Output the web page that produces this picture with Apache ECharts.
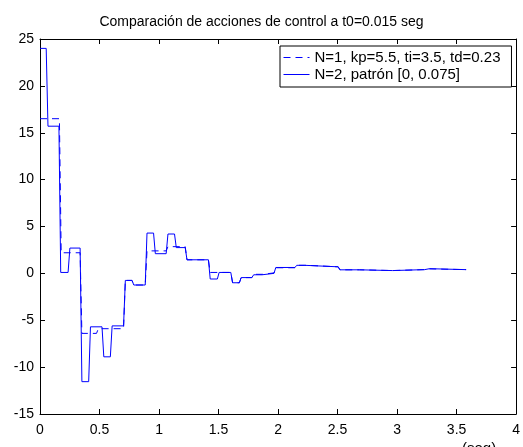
<!DOCTYPE html>
<html>
<head>
<meta charset="utf-8">
<script src="https://cdn.jsdelivr.net/npm/echarts@6/dist/echarts.min.js"></script>
<style>html,body{margin:0;padding:0;background:#fff;}#c{width:523px;height:447px;}</style>
</head>
<body>
<div id="c"></div>
<script>
// Tick settings
const xMin = 0, xMax = 4, xStep = 0.5;
const yMin = -15, yMax = 25, yStep = 5;
const endTime = 3.58;
const dt = 0.015;

// Series 1 (dashed): N=1, kp=5.5, ti=3.5, td=0.23 -> step change times and held levels
const dashedTimes  = [0, 0.163, 0.337, 0.475, 0.702, 0.773, 0.884, 1.06, 1.22, 1.415, 1.603, 1.675, 1.78, 1.87, 1.966, 2.142, 2.24, 2.505, 2.686, 2.963, 3.231, 3.273];
const dashedLevels = [16.5, 2.2, -6.4, -5.9, -0.75, -1.24, 2.4, 2.85, 1.45, 0.1, -1.0, -0.45, -0.1, 0.05, 0.6, 0.86, 0.7, 0.38, 0.3, 0.4, 0.48, 0.4];

// Series 2 (solid): N=2, patrón [0, 0.075]
const solidTimes  = [0, 0.052, 0.159, 0.236, 0.337, 0.409, 0.521, 0.591, 0.702, 0.773, 0.884, 0.954, 1.06, 1.13, 1.22, 1.415, 1.49, 1.603, 1.675, 1.78, 1.865, 1.966, 2.142, 2.225, 2.505, 2.686, 2.963, 3.231, 3.273];
const solidLevels = [24, 15.7, 0.1, 2.7, -11.55, -5.7, -8.9, -5.6, -0.75, -1.24, 4.3, 2.1, 4.2, 2.75, 1.45, -0.6, 0.1, -1.0, -0.45, -0.15, 0.0, 0.63, 0.86, 0.7, 0.38, 0.3, 0.4, 0.5, 0.4];

const seriesNames = ['N=1, kp=5.5, ti=3.5, td=0.23', 'N=2, patrón [0, 0.075]'];

function holdPoints(times, levels) {
  const pts = [];
  for (let i = 0; i < levels.length; i++) {
    const s = i === 0 ? times[i] : times[i] + dt;
    const e = i + 1 < times.length ? times[i + 1] : endTime;
    pts.push([s, levels[i]]);
    pts.push([e, levels[i]]);
  }
  return pts;
}

const font = 'Liberation Sans, Arial, sans-serif';
const fs = 14;
const blue = '#0000ff';
const chart = echarts.init(document.getElementById('c'), null, {renderer: 'canvas'});
const baseX = {type: 'value', min: xMin, max: xMax, interval: xStep, splitLine: {show: false},
  axisLine: {show: true, onZero: false, lineStyle: {color: '#000', width: 1}},
  axisTick: {show: true, inside: true, length: 5, lineStyle: {color: '#000'}}};
const baseY = {type: 'value', min: yMin, max: yMax, interval: yStep, splitLine: {show: false},
  axisLine: {show: true, onZero: false, lineStyle: {color: '#000', width: 1}},
  axisTick: {show: true, inside: true, length: 5, lineStyle: {color: '#000'}}};

chart.setOption({
  animation: false,
  backgroundColor: '#fff',
  title: {text: 'Comparación de acciones de control a t0=0.015 seg', left: 'center', top: 10,
    textStyle: {fontFamily: font, fontSize: fs, fontWeight: 'normal', color: '#000'}},
  grid: {left: 40, right: 6, top: 39, bottom: 33, containLabel: false},
  xAxis: [
    Object.assign({}, baseX, {position: 'bottom', axisLabel: {color: '#000', fontFamily: font, fontSize: fs, margin: 9,
      formatter: v => String(v)}}),
    Object.assign({}, baseX, {position: 'top', axisLabel: {show: false}})
  ],
  yAxis: [
    Object.assign({}, baseY, {position: 'left', axisLabel: {color: '#000', fontFamily: font, fontSize: fs, margin: 6}}),
    Object.assign({}, baseY, {position: 'right', axisLabel: {show: false}})
  ],
  legend: {
    data: [
      {name: seriesNames[0], itemStyle: {opacity: 0}, lineStyle: {color: blue, width: 1, type: [7, 5], opacity: 1}},
      {name: seriesNames[1], itemStyle: {opacity: 0}, lineStyle: {color: blue, width: 1, type: 'solid', opacity: 1}}
    ],
    orient: 'vertical', left: 280, top: 46,
    backgroundColor: '#fff', borderColor: '#000', borderWidth: 1, padding: [4, 11, 5, 3],
    itemGap: 2, itemWidth: 26, itemHeight: 15,
    textStyle: {fontFamily: font, fontSize: 15, color: '#000'}
  },
  graphic: [{type: 'text', left: 462, top: 441, style: {text: '(seg)', fontFamily: font, fontSize: 15, fill: '#000'}}],
  series: [
    {name: seriesNames[0], type: 'line', data: holdPoints(dashedTimes, dashedLevels), showSymbol: false, symbol: 'none',
      lineStyle: {color: blue, width: 1, type: [7, 5]}, itemStyle: {color: blue}, z: 3},
    {name: seriesNames[1], type: 'line', data: holdPoints(solidTimes, solidLevels), showSymbol: false, symbol: 'none',
      lineStyle: {color: blue, width: 1}, itemStyle: {color: blue}, z: 2}
  ]
});
</script>
</body>
</html>
